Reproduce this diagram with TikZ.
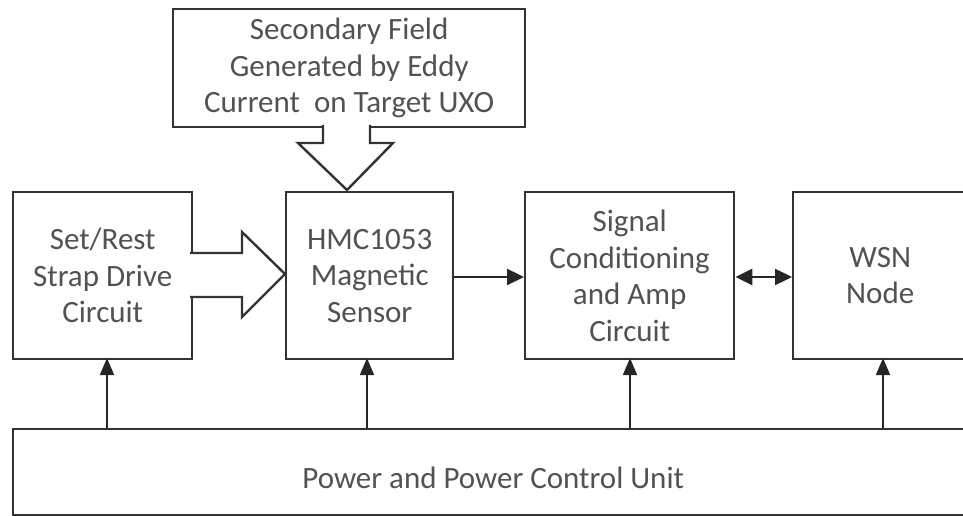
\documentclass[tikz,border=0pt]{standalone}
\usepackage{fontspec}
\setmainfont{Carlito}
\usetikzlibrary{arrows.meta}
\begin{document}
\begin{tikzpicture}[x=1pt,y=-1pt,
  blk/.style={draw=black!80, line width=2.4pt, fill=white, anchor=north west, inner sep=0pt,
    font=\fontsize{31}{36.6}\selectfont, text=black!68, align=center},
  conn/.style={draw=black!85, line width=2.4pt, -{Triangle[length=17pt,width=16pt]}},
  dconn/.style={draw=black!85, line width=2.4pt, {Triangle[length=17pt,width=16pt]}-{Triangle[length=17pt,width=16pt]}},
  pconn/.style={draw=black!85, line width=1.6pt, -{Triangle[length=17pt,width=14pt]}},
  hollow/.style={draw=black!80, line width=2.4pt, line join=miter}]
\useasboundingbox (0,0) rectangle (963,516);
\fill[white] (0,0) rectangle (963,516);

% boxes
\node[blk, minimum width=352pt, minimum height=118pt] (sec) at (172,8)
  {Secondary Field\\Generated by Eddy\\Current\ \ on Target UXO};
\node[blk, minimum width=179pt, minimum height=167pt] (set) at (12,191)
  {Set/Rest\\Strap Drive\\Circuit};
\node[blk, minimum width=167pt, minimum height=167pt] (hmc) at (285,191)
  {HMC1053\\Magnetic\\Sensor};
\node[blk, minimum width=209pt, minimum height=167pt] (sig) at (524,191)
  {Signal\\Conditioning\\and Amp\\Circuit};
\node[blk, minimum width=174pt, minimum height=167pt] (wsn) at (792,191)
  {WSN\\Node};
\node[blk, minimum width=960pt, minimum height=86pt] (pwr) at (12,428)
  {\raisebox{-16pt}[0pt][0pt]{Power and Power Control Unit}};

% hollow arrow: secondary field -> sensor
\fill[white] (323,123) rectangle (370,145);
\fill[white] (298,143) -- (347,190) -- (393,143) -- cycle;
\draw[hollow] (323,125) -- (323,143) -- (298,143) -- (347,190) -- (393,143) -- (370,143) -- (370,125);

% hollow arrow: set/rest -> sensor
\fill[white] (188,253) rectangle (244,297);
\fill[white] (242,232) -- (285,274) -- (242,317) -- cycle;
\draw[hollow] (190,253) -- (242,253) -- (242,232) -- (285,274) -- (242,317) -- (242,297) -- (190,297);

% signal connectors
\draw[conn] (hmc.east |- 0,277) -- (sig.west |- 0,277);
\draw[dconn] (sig.east |- 0,277) -- (wsn.west |- 0,277);

% power connectors
\draw[pconn] (107,428) -- (107,358);
\draw[pconn] (367,428) -- (367,358);
\draw[pconn] (630,428) -- (630,358);
\draw[pconn] (883,428) -- (883,358);
\end{tikzpicture}
\end{document}
